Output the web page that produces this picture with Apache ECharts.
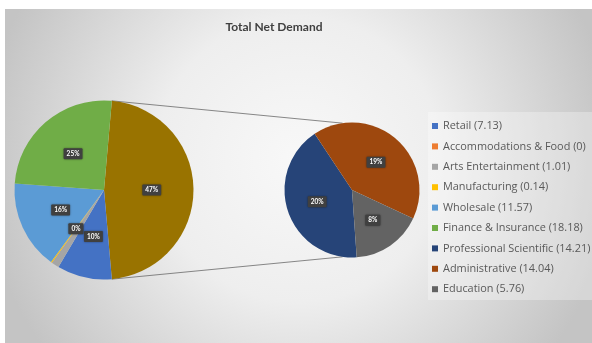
<!DOCTYPE html>
<html>
<head>
<meta charset="utf-8">
<script src="https://cdn.jsdelivr.net/npm/echarts@6/dist/echarts.min.js"></script>
<style>
  html, body { margin: 0; padding: 0; background: #ffffff; }
  #chart { width: 592px; height: 343px; }
</style>
</head>
<body>
<div id="chart"></div>
<script>
// Sectors shown in the main pie
const mainCategories = ['Retail', 'Accommodations & Food', 'Arts Entertainment', 'Manufacturing', 'Wholesale', 'Finance & Insurance'];
const mainValues = [7.13, 0, 1.01, 0.14, 11.57, 18.18];
// Sectors broken out into the secondary pie
const splitCategories = ['Professional Scientific', 'Administrative', 'Education'];
const splitValues = [14.21, 14.04, 5.76];

const colors = {
  'Retail': '#4472C4',
  'Accommodations & Food': '#ED7D31',
  'Arts Entertainment': '#A5A5A5',
  'Manufacturing': '#FFC000',
  'Wholesale': '#5B9BD5',
  'Finance & Insurance': '#70AD47',
  'Professional Scientific': '#264478',
  'Administrative': '#9E480E',
  'Education': '#636363',
  'Other': '#997300'
};
const hiddenLabels = ['Accommodations & Food', 'Arts Entertainment'];

const sum = a => a.reduce((s, v) => s + v, 0);
const otherValue = sum(splitValues);
const grandTotal = sum(mainValues) + otherValue;
const pct = v => Math.round(v / grandTotal * 100) + '%';

const valueByName = {};
mainCategories.forEach((c, i) => { valueByName[c] = mainValues[i]; });
splitCategories.forEach((c, i) => { valueByName[c] = splitValues[i]; });
const legendText = name => name + ' (' + valueByName[name] + ')';

// legend font: size chosen so the Finance entry spans about 140px
const legendFamily = '"Open Sans", Lato, sans-serif';
const measureCtx = document.createElement('canvas').getContext('2d');
function fitSize(text, targetWidth) {
  measureCtx.font = '20px ' + legendFamily;
  const w = measureCtx.measureText(text).width;
  return Math.round(20 * targetWidth / w * 10) / 10;
}
const legendFontSize = fitSize(legendText('Finance & Insurance'), 140);

// layout of the two pies
const L = { cx: 104, cy: 190, r: 89.5 };
const R = { cx: 352, cy: 190, r: 67.5 };

// "Other" wedge is centred facing the secondary pie (3 o'clock)
const otherHalf = otherValue / grandTotal * 180;

const labelStyle = {
  show: true,
  position: 'inside',
  color: '#ffffff',
  fontSize: 6.5,
  fontWeight: 'bold',
  fontFamily: 'Lato, "Liberation Sans", sans-serif',
  backgroundColor: '#404040',
  padding: [2, 3],
  borderRadius: 1,
  shadowColor: 'rgba(0,0,0,0.45)',
  shadowBlur: 2,
  formatter: p => pct(p.value)
};

const mainData = [{ name: 'Other', value: otherValue, itemStyle: { color: colors['Other'] } }]
  .concat(mainCategories.map((c, i) => ({
    name: c,
    value: mainValues[i],
    itemStyle: { color: colors[c] },
    label: hiddenLabels.includes(c) ? { show: false } : undefined
  })));

const splitData = splitCategories.map((c, i) => ({
  name: c, value: splitValues[i], itemStyle: { color: colors[c] }
}));

// connector end points, in clockwise degrees from 12 o'clock
const pt = (c, deg) => {
  const a = deg * Math.PI / 180;
  return [c.cx + c.r * Math.sin(a), c.cy - c.r * Math.cos(a)];
};
const lTop = pt(L, 90 - otherHalf), lBot = pt(L, 90 + otherHalf);
const rTop = pt(R, -8), rBot = pt(R, 188);

const chart = echarts.init(document.getElementById('chart'), null, { renderer: 'canvas' });
chart.setOption({
  animation: false,
  backgroundColor: '#ffffff',
  title: {
    text: 'Total Net Demand',
    left: 269,
    textAlign: 'center',
    top: 16,
    textStyle: { fontSize: 12, fontWeight: 'bold', color: '#404040', fontFamily: 'Lato, "Liberation Sans", sans-serif' }
  },
  graphic: [
    {
      type: 'rect', z: -10, silent: true,
      shape: { x: 5, y: 9, width: 587, height: 334 },
      style: {
        fill: new echarts.graphic.RadialGradient(0.5, 0.45, 0.95, [
          { offset: 0, color: '#f8f8f8' },
          { offset: 0.45, color: '#eeeeee' },
          { offset: 1, color: '#c4c4c4' }
        ])
      }
    },
    {
      type: 'rect', z: -9, silent: true,
      shape: { x: 428, y: 112, width: 170, height: 188 },
      style: { fill: 'rgba(255,255,255,0.3)' }
    },
    {
      type: 'line', z: 1, silent: true,
      shape: { x1: lTop[0], y1: lTop[1], x2: rTop[0], y2: rTop[1] },
      style: { stroke: '#6a6a6a', lineWidth: 0.8 }
    },
    {
      type: 'line', z: 1, silent: true,
      shape: { x1: lBot[0], y1: lBot[1], x2: rBot[0], y2: rBot[1] },
      style: { stroke: '#6a6a6a', lineWidth: 0.8 }
    }
  ],
  legend: {
    orient: 'vertical',
    left: 432,
    top: 119,
    padding: 0,
    itemWidth: 6,
    itemHeight: 6,
    itemGap: 6.4,
    icon: 'rect',
    data: mainCategories.concat(splitCategories),
    formatter: legendText,
    textStyle: { fontSize: legendFontSize, lineHeight: 14, color: '#595959', fontFamily: legendFamily }
  },
  series: [
    {
      type: 'pie',
      center: [L.cx, L.cy],
      radius: [0, L.r],
      startAngle: otherHalf,
      clockwise: true,
      avoidLabelOverlap: false,
      stillShowZeroSum: true,
      label: labelStyle,
      labelLine: { show: false },
      emphasis: { disabled: true },
      itemStyle: { borderWidth: 0 },
      data: mainData
    },
    {
      type: 'pie',
      center: [R.cx, R.cy],
      radius: [0, R.r],
      startAngle: -86,
      clockwise: true,
      avoidLabelOverlap: false,
      label: labelStyle,
      labelLine: { show: false },
      emphasis: { disabled: true },
      itemStyle: { borderWidth: 0 },
      data: splitData
    }
  ]
});
</script>
</body>
</html>
